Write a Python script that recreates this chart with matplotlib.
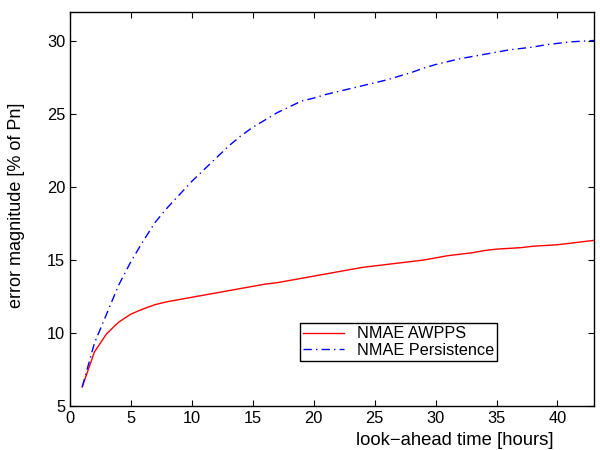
import matplotlib
matplotlib.use("Agg")
import matplotlib.pyplot as plt

# look-ahead hours and error values (% of Pn)
hours = list(range(1, 44))
nmae_awpps = [6.3, 8.7, 9.95, 10.75, 11.3, 11.65, 11.95, 12.15, 12.3, 12.45,
              12.6, 12.75, 12.9, 13.05, 13.2, 13.35, 13.45, 13.6, 13.75, 13.9,
              14.05, 14.2, 14.35, 14.5, 14.6, 14.7, 14.8, 14.9, 15.0, 15.15,
              15.3, 15.4, 15.5, 15.65, 15.75, 15.8, 15.85, 15.95, 16.0, 16.05,
              16.15, 16.25, 16.35]
nmae_persistence = [6.3, 9.3, 11.3, 13.3, 14.9, 16.3, 17.6, 18.6, 19.5, 20.4,
                    21.2, 22.0, 22.8, 23.5, 24.1, 24.6, 25.1, 25.5, 25.9, 26.1,
                    26.35, 26.55, 26.75, 26.95, 27.15, 27.35, 27.6, 27.85, 28.15, 28.4,
                    28.6, 28.8, 28.95, 29.1, 29.25, 29.4, 29.5, 29.6, 29.75, 29.85,
                    29.95, 30.0, 30.05]

plt.rcParams['font.family'] = ['Liberation Sans', 'DejaVu Sans']

fig = plt.figure(figsize=(6, 4.5), dpi=100)
ax = fig.add_axes([0.1167, 0.0978, 0.8733, 0.8755])

ax.plot(hours, nmae_awpps, color='red', lw=1, label='NMAE AWPPS')
ax.plot(hours, nmae_persistence, color='blue', lw=1, ls=(0, (6, 3, 1, 3)),
        label='NMAE Persistence')

ax.set_xlim(0, 43)
ax.set_ylim(5, 32)
ax.set_xticks(range(0, 45, 5))
ax.set_yticks(range(5, 31, 5))
ax.tick_params(direction='in', top=True, right=True, labelsize=11.8, length=4.5)
for s in ax.spines.values():
    s.set_linewidth(1)

ax.set_xlabel('look\u2212ahead time [hours]', fontsize=13.3)
ax.set_ylabel('error magnitude [% of Pn]', fontsize=13)
ax.xaxis.set_label_coords(0.735, -0.066)
ax.yaxis.set_label_coords(-0.086, 0.51)

leg = ax.legend(loc='lower left', bbox_to_anchor=(0.439, 0.114), fontsize=11.7,
                fancybox=False, framealpha=1, edgecolor='black',
                borderpad=0.2, handlelength=2.5, labelspacing=0.1,
                borderaxespad=0)
leg.get_frame().set_linewidth(1)

fig.savefig('out.png', dpi=100)
